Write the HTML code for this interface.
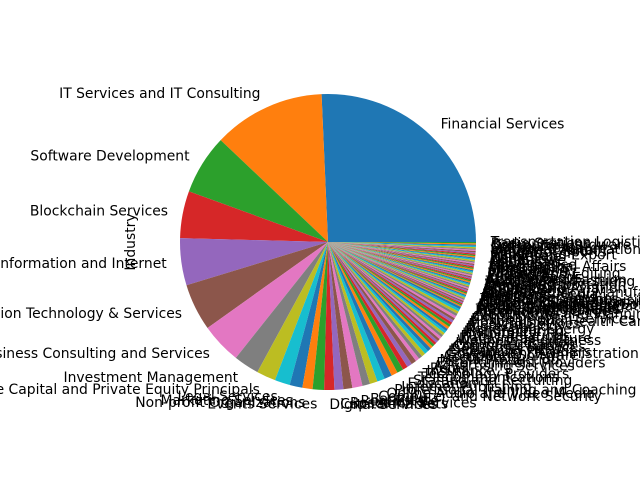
<!DOCTYPE html>
<html><head><meta charset="utf-8"><style>
html,body{margin:0;padding:0;background:#fff;width:640px;height:480px;overflow:hidden}
svg text{font-family:"DejaVu Sans","Liberation Sans",sans-serif;font-size:13.9px;fill:#000}
</style></head><body>
<svg id="chart" width="640" height="480">
<text transform="translate(131,242) rotate(-90)" text-anchor="middle" dominant-baseline="central">Industry</text>
</svg>
<script>
const categories = ["Financial Services","IT Services and IT Consulting","Software Development","Blockchain Services","Information and Internet","Information Technology & Services","Business Consulting and Services","Investment Management","Venture Capital and Private Equity Principals","Legal Services","Marketing Services","Non-profit Organizations","Events Services","Digital Services","Capital Markets","Research Services","Real Estate","Banking","Computer and Network Security","Online Audio and Video Media","Professional Training and Coaching","Internet Publishing","Education","Staffing and Recruiting","Telecommunications","Technology Providers","Insurance","Retail","Advertising Services","Entertainment Providers","Media Production","Accounting","Computer Software","Government Administration","E-Learning Providers","Design Services","Consumer Services","Computer Games","Higher Education","Wellness and Fitness","Data Infrastructure","Public Relations","Hospitality","Manufacturing","Renewable Energy","Biotechnology","Medical Devices","Hospitals and Health Care","Environmental Services","Construction","Architecture and Planning","Automotive","Food and Beverage","Travel Arrangements","Mobile Gaming Apps","Artificial Intelligence","Security and Investigations","Desktop Computing Software Products","Office Administration","Civic and Social Organizations","Philanthropic Fundraising","Translation Services","Printing Services","Sports","Musicians","Broadcast Media","Pharmaceutical Manufacturing","Oil and Gas","Utilities","Airlines and Aviation","Shipping","Warehousing","Truck Transportation","Packaging","Textile Manufacturing","Apparel and Fashion","Cosmetics","Luxury Goods","Furniture","Photography","Writing and Editing","Libraries","Museums","Fundraising","Think Tanks","International Affairs","Law Practice","Mining","Chemicals","Agriculture","Fisheries","Dairy","Wholesale","Import and Export","Freight","Spectator Sports","Venture Capital","Industrial Automation","Market Research","Outsourcing","Computer Hardware","Radio Stations","Transportation Logistics"];
const values = [185,88,47,37,37,37,32,20,15,12,10,8,9,8,7,7,8,6,6,6,6,5,5,4,4,4,3,3,3,3,3,2,2,2,2,2,2,2,2,2,2,2,2,2,2,2,2,2,2,2,2,1,1,1,1,1,1,1,1,1,1,1,1,1,1,1,1,1,1,1,1,1,1,1,1,1,1,1,1,1,1,1,1,1,1,1,1,1,1,1,1,1,1,1,1,1,1,1,1,1,1,1,1];
const colors = ["#1f77b4","#ff7f0e","#2ca02c","#d62728","#9467bd","#8c564b","#e377c2","#7f7f7f","#bcbd22","#17becf"];
const svg = document.getElementById('chart');
const NS = 'http://www.w3.org/2000/svg';
const cx = 328, cy = 242, r = 148;
const total = values.reduce((a,b)=>a+b,0);
function angleOf(v){ return v/total*2*Math.PI; }
const sliceG = document.createElementNS(NS,'g');
const labelG = document.createElementNS(NS,'g');
svg.appendChild(sliceG); svg.appendChild(labelG);
let a0 = 0;
values.forEach((v,i)=>{
  const a1 = a0 + angleOf(v);
  const x0 = cx + r*Math.cos(a0), y0 = cy - r*Math.sin(a0);
  const x1 = cx + r*Math.cos(a1), y1 = cy - r*Math.sin(a1);
  const large = (a1-a0) > Math.PI ? 1 : 0;
  const p = document.createElementNS(NS,'path');
  p.setAttribute('d',`M${cx},${cy} L${x0},${y0} A${r},${r} 0 ${large} 0 ${x1},${y1} Z`);
  p.setAttribute('fill',colors[i%10]);
  
  
  sliceG.appendChild(p);
  const am = (a0+a1)/2;
  const lx = cx + 1.1*r*Math.cos(am), ly = cy - 1.1*r*Math.sin(am);
  const t = document.createElementNS(NS,'text');
  t.setAttribute('x',lx); t.setAttribute('y',ly);
  t.setAttribute('text-anchor', Math.cos(am) >= 0 ? 'start' : 'end');
  t.setAttribute('dominant-baseline','central');
  t.textContent = categories[i] || ('Industry ' + (i+1));
  
  
  labelG.appendChild(t);
  a0 = a1;
});
</script>
</body></html>
